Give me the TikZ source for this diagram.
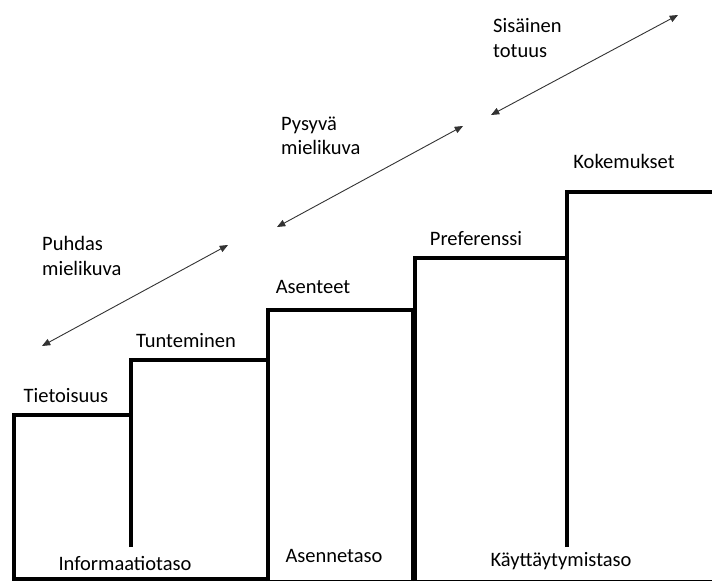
\documentclass[tikz,border=0pt]{standalone}
\usepackage{fontspec}
\setmainfont{Carlito}
\usetikzlibrary{arrows}

\begin{document}
\begin{tikzpicture}[line cap=butt,line join=miter,>=triangle 45,x=1pt,y=-1pt,
  every node/.style={inner sep=0pt,font=\fontsize{20.5}{24.5}\selectfont}]
\useasboundingbox (0,0) rectangle (712,581);
% portaat
\draw [line width=4.5pt] (14,579)-- (14,415)-- (131,415);
\draw [line width=4.5pt] (131,547)-- (131,360)-- (268,360);
\draw [line width=4pt] (12,579)-- (268,579);
\draw [line width=4.5pt] (268,581)-- (268,310)-- (413,310)-- (413,581);
\draw [line width=4.5pt] (415,581)-- (415,258)-- (567,258);
\draw [line width=4.5pt] (567,547)-- (567,192)-- (712,192);
\draw [line width=1pt] (268,580)-- (712,580);
% nuolet
\coordinate (p1) at (42,346);
\coordinate (p2) at (228,245);
\coordinate (q1) at (277,227);
\coordinate (q2) at (463,126);
\coordinate (r1) at (491,115);
\coordinate (r2) at (678,15);
\draw [<->,line width=0.9pt,color=black!80] (p1)-- (p2);
\draw [<->,line width=0.9pt,color=black!80] (q1)-- (q2);
\draw [<->,line width=0.9pt,color=black!80] (r1)-- (r2);
% tekstit
\draw (42,256) node[anchor=west,align=left] (puhdas) {Puhdas\\mielikuva};
\draw (281,136) node[anchor=west,align=left] (pysyva) {Pysyvä\\mielikuva};
\draw (493,38) node[anchor=west,align=left] (sisainen) {Sisäinen\\totuus};
\draw (66,396) node (tietoisuus) {Tietoisuus};
\draw (186,341) node (tunteminen) {Tunteminen};
\draw (313,287) node (asenteet) {Asenteet};
\draw (476,239) node (preferenssi) {Preferenssi};
\draw (624,161) node (kokemukset) {Kokemukset};
\draw (125,563) node (informaatio) {Informaatiotaso};
\draw (334,556) node (asenne) {Asennetaso};
\draw (561,561) node (kayttaytyminen) {Käyttäytymistaso};
\end{tikzpicture}
\end{document}
